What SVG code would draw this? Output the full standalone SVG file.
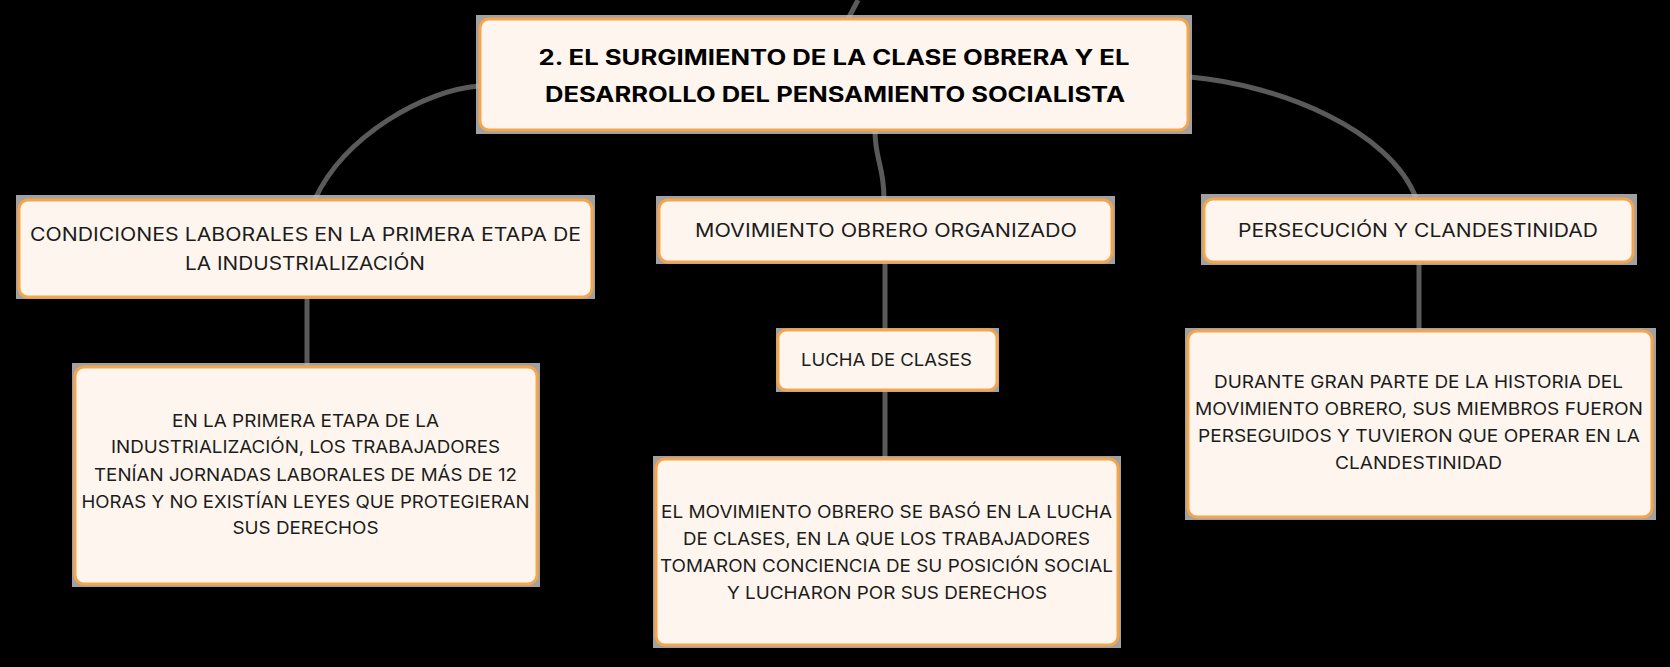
<svg xmlns="http://www.w3.org/2000/svg" width="1670" height="667" viewBox="0 0 1670 667">
<style>
.bg{fill:#000}
.sh{fill:#bdbdbd;opacity:0.85}
.box{fill:#fef6ee;stroke:#f5a64c;stroke-width:3}
.t{font-family:Inter,"Open Sans","Liberation Sans",sans-serif;fill:#1c1c1c;text-anchor:middle}
.title{font-size:21px;font-weight:700;fill:#000}
.h{font-size:18.5px}
.p{font-size:17px}
.c{fill:none;stroke:#5a5a5a;stroke-width:5;stroke-linecap:butt}
</style>
<rect class="bg" x="0" y="0" width="1670" height="667"/>
<g id="connectors">
<path class="c" d="M848,19 L858,0"/>
<path class="c" d="M479,86 C425,90 345,135 315,199"/>
<path class="c" d="M875,131 C875,160 884,165 884,199"/>
<path class="c" d="M1190,77 C1280,85 1390,130 1416,198"/>
<path class="c" d="M307,297 L307,366"/>
<path class="c" d="M885,262 L885,330"/>
<path class="c" d="M885,390 L885,458"/>
<path class="c" d="M1419,263 L1419,330"/>
</g>
<g id="main">
<rect class="sh" x="476" y="15" width="716" height="119"/>
<rect class="box" x="480" y="19" width="708" height="111" rx="9"/>
<text class="t title" x="834" y="65" textLength="591" lengthAdjust="spacingAndGlyphs">2. EL SURGIMIENTO DE LA CLASE OBRERA Y EL</text>
<text class="t title" x="835" y="102" textLength="580" lengthAdjust="spacingAndGlyphs">DESARROLLO DEL PENSAMIENTO SOCIALISTA</text>
</g>
<g id="node-condiciones">
<rect class="sh" x="16" y="195" width="579" height="104"/>
<rect class="box" x="19" y="200" width="573" height="97" rx="9"/>
<text class="t h" x="305.5" y="241" textLength="551" lengthAdjust="spacingAndGlyphs">CONDICIONES LABORALES EN LA PRIMERA ETAPA DE</text>
<text class="t h" x="305" y="270" textLength="240" lengthAdjust="spacingAndGlyphs">LA INDUSTRIALIZACIÓN</text>
</g>
<g id="node-condiciones-detalle">
<rect class="sh" x="72" y="363" width="468" height="224"/>
<rect class="box" x="75" y="367" width="462" height="217" rx="9"/>
<text class="t p" x="305.5" y="427" textLength="267" lengthAdjust="spacingAndGlyphs">EN LA PRIMERA ETAPA DE LA</text>
<text class="t p" x="305.5" y="453" textLength="389" lengthAdjust="spacingAndGlyphs">INDUSTRIALIZACIÓN, LOS TRABAJADORES</text>
<text class="t p" x="305.5" y="481" textLength="423" lengthAdjust="spacingAndGlyphs">TENÍAN JORNADAS LABORALES DE MÁS DE 12</text>
<text class="t p" x="305.5" y="508" textLength="448" lengthAdjust="spacingAndGlyphs">HORAS Y NO EXISTÍAN LEYES QUE PROTEGIERAN</text>
<text class="t p" x="305.5" y="534" textLength="146" lengthAdjust="spacingAndGlyphs">SUS DERECHOS</text>
</g>
<g id="node-movimiento">
<rect class="sh" x="656" y="196" width="459" height="68"/>
<rect class="box" x="659" y="200" width="453" height="62" rx="9"/>
<text class="t h" x="886" y="237" textLength="382" lengthAdjust="spacingAndGlyphs">MOVIMIENTO OBRERO ORGANIZADO</text>
</g>
<g id="node-lucha">
<rect class="sh" x="776" y="328" width="223" height="64"/>
<rect class="box" x="778" y="330" width="219" height="60" rx="8"/>
<text class="t p" x="886.5" y="366" textLength="171" lengthAdjust="spacingAndGlyphs">LUCHA DE CLASES</text>
</g>
<g id="node-lucha-detalle">
<rect class="sh" x="653" y="456" width="468" height="192"/>
<rect class="box" x="656" y="459" width="462" height="186" rx="9"/>
<text class="t p" x="886.5" y="518" textLength="451" lengthAdjust="spacingAndGlyphs">EL MOVIMIENTO OBRERO SE BASÓ EN LA LUCHA</text>
<text class="t p" x="886.5" y="545" textLength="407" lengthAdjust="spacingAndGlyphs">DE CLASES, EN LA QUE LOS TRABAJADORES</text>
<text class="t p" x="886.5" y="572" textLength="453" lengthAdjust="spacingAndGlyphs">TOMARON CONCIENCIA DE SU POSICIÓN SOCIAL</text>
<text class="t p" x="887" y="599" textLength="320" lengthAdjust="spacingAndGlyphs">Y LUCHARON POR SUS DERECHOS</text>
</g>
<g id="node-persecucion">
<rect class="sh" x="1201" y="194" width="436" height="71"/>
<rect class="box" x="1204" y="199" width="429" height="63" rx="9"/>
<text class="t h" x="1418" y="237" textLength="360" lengthAdjust="spacingAndGlyphs">PERSECUCIÓN Y CLANDESTINIDAD</text>
</g>
<g id="node-persecucion-detalle">
<rect class="sh" x="1185" y="328" width="471" height="192"/>
<rect class="box" x="1188" y="331" width="464" height="186" rx="9"/>
<text class="t p" x="1418.5" y="388" textLength="409" lengthAdjust="spacingAndGlyphs">DURANTE GRAN PARTE DE LA HISTORIA DEL</text>
<text class="t p" x="1419" y="415" textLength="448" lengthAdjust="spacingAndGlyphs">MOVIMIENTO OBRERO, SUS MIEMBROS FUERON</text>
<text class="t p" x="1419" y="442" textLength="442" lengthAdjust="spacingAndGlyphs">PERSEGUIDOS Y TUVIERON QUE OPERAR EN LA</text>
<text class="t p" x="1418.5" y="469" textLength="167" lengthAdjust="spacingAndGlyphs">CLANDESTINIDAD</text>
</g>
</svg>
